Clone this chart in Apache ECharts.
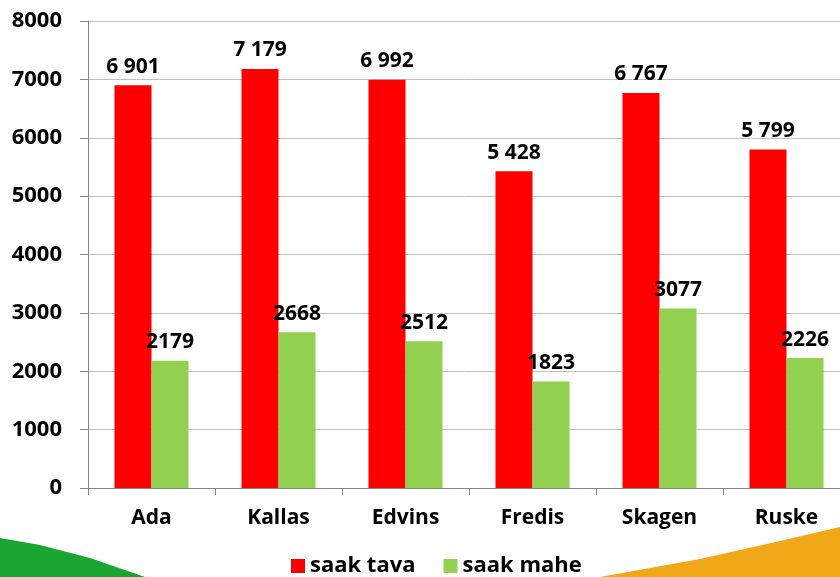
<!DOCTYPE html>
<html>
<head>
<meta charset="utf-8">
<script src="https://cdn.jsdelivr.net/npm/echarts@6/dist/echarts.min.js"></script>
<style>
  html, body { margin: 0; padding: 0; background: #fff; }
  #chart { width: 840px; height: 577px; }
</style>
</head>
<body>
<div id="chart"></div>
<script>
// andmed
var categories = ['Ada', 'Kallas', 'Edvins', 'Fredis', 'Skagen', 'Ruske'];
var saakTava = [6901, 7179, 6992, 5428, 6767, 5799];
var saakMahe = [2179, 2668, 2512, 1823, 3077, 2226];
var seriesNames = ['saak tava', 'saak mahe'];

var fontFam = '"Open Sans", "Liberation Sans", sans-serif';

// 6901 -> "6 901"
function spaced(v) {
    return String(v).replace(/\B(?=(\d{3})+(?!\d))/g, ' ');
}

var myChart = echarts.init(document.getElementById('chart'));

var option = {
    backgroundColor: '#fff',
    animation: false,
    textStyle: { fontFamily: fontFam },
    grid: { left: 88, top: 21, bottom: 89, right: -10, outerBoundsMode: 'none', containLabel: false },
    legend: {
        data: seriesNames,
        left: 286,
        top: 550,
        itemWidth: 14,
        itemHeight: 14,
        itemGap: 28,
        icon: 'rect',
        textStyle: { fontSize: 22, fontWeight: 'bold', color: '#000', fontFamily: fontFam }
    },
    xAxis: {
        type: 'category',
        data: categories,
        axisLine: { lineStyle: { color: '#868686' } },
        axisTick: { show: true, length: 7, lineStyle: { color: '#868686' } },
        axisLabel: { fontSize: 21, fontWeight: 'bold', color: '#000', margin: 20 }
    },
    yAxis: {
        type: 'value',
        min: 0,
        max: 8000,
        interval: 1000,
        axisLine: { show: true, lineStyle: { color: '#868686' } },
        axisTick: { show: true, length: 8, lineStyle: { color: '#868686' } },
        splitLine: { lineStyle: { color: '#bfbfbf' } },
        axisLabel: {
            fontSize: 22, fontWeight: 'bold', color: '#000', margin: 26,
            formatter: function (v) { return String(v); }
        }
    },
    series: [{
        name: seriesNames[0],
        type: 'bar',
        data: saakTava,
        barWidth: 37,
        barGap: '0%',
        itemStyle: { color: '#ff0000' },
        label: {
            show: true, position: 'top', distance: 8,
            fontSize: 21, fontWeight: 'bold', color: '#000',
            formatter: function (p) { return spaced(p.value); }
        }
    }, {
        name: seriesNames[1],
        type: 'bar',
        data: saakMahe,
        barWidth: 37,
        itemStyle: { color: '#92d050' },
        label: {
            show: true, position: 'top', distance: 8,
            fontSize: 21, fontWeight: 'bold', color: '#000'
        }
    }],
    graphic: [{
        type: 'polygon',
        z: -1,
        shape: { points: [[0, 538], [40, 545], [90, 558], [145, 577], [0, 577]] },
        style: { fill: '#1aa532' }
    }, {
        type: 'polygon',
        z: -1,
        shape: { points: [[840, 527], [780, 541], [700, 559], [600, 577], [840, 577]] },
        style: { fill: '#f0a818' }
    }]
};
myChart.setOption(option);
</script>
</body>
</html>
